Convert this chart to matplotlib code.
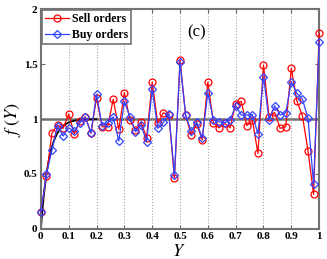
import numpy as np
import matplotlib.pyplot as plt

plt.rcParams['font.family'] = ['Liberation Serif', 'DejaVu Serif']
plt.rcParams['mathtext.fontset'] = 'stix'

# 数据：Y 取值与两组订单的 f(Y)
y_pos = np.round(np.arange(0, 1.0001, 0.02), 2)
sell = [0.15, 0.485, 0.875, 0.945, 0.915, 1.045, 0.865, 0.98, 1.02, 0.87,
        1.195, 0.93, 0.93, 1.18, 0.905, 1.24, 0.99, 0.90, 0.97, 0.83,
        1.335, 0.96, 1.057, 1.036, 0.46, 1.54, 1.036, 0.855, 0.955, 0.81,
        1.335, 0.966, 0.92, 0.96, 0.92, 1.14, 1.16, 0.94, 0.99, 0.688,
        1.49, 1.02, 1.06, 0.915, 0.93, 1.46, 1.164, 1.027, 0.71, 0.315,
        1.78]
buy = [0.15, 0.50, 0.72, 0.94, 0.845, 0.92, 0.89, 0.965, 1.015, 0.875,
       1.225, 0.94, 0.965, 1.02, 0.80, 1.16, 1.02, 0.885, 0.945, 0.795,
       1.27, 0.915, 0.97, 1.05, 0.49, 1.52, 1.036, 0.89, 0.97, 0.825,
       1.24, 0.99, 0.975, 0.965, 0.99, 1.12, 1.036, 1.036, 1.04, 0.864,
       1.385, 0.99, 1.12, 1.036, 1.057, 1.34, 1.233, 1.18, 1.006, 0.406,
       1.70]
lam = 0.029

fig = plt.figure(figsize=(3.27, 2.59), dpi=100)
ax = fig.add_axes([0.125, 0.116, 0.851, 0.849])

ax.axhline(1, color='0.45', lw=1.8, zorder=1)
yy = np.linspace(0, 0.2, 200)
ax.plot(yy, 1 - np.exp(-yy / lam), color='black', lw=1.3, zorder=2)

ax.plot(y_pos, sell, '-o', color='red', mfc='none', mec='red', ms=5,
        lw=0.9, mew=0.9, label='Sell orders', zorder=3, clip_on=False)
ax.plot(y_pos, buy, '-D', color='#3344ff', mfc='none', mec='#3344ff', ms=4,
        lw=0.9, mew=0.9, label='Buy orders', zorder=4, clip_on=False)

ax.set_xlim(0, 1)
ax.set_ylim(0, 2)
ax.set_xticks(np.arange(0, 1.01, 0.1))
ax.set_xticklabels(['0', '0.1', '0.2', '0.3', '0.4', '0.5', '0.6', '0.7',
                    '0.8', '0.9', '1'])
ax.set_yticks([0, 0.5, 1, 1.5, 2])
ax.set_yticklabels(['0', '0.5', '1', '1.5', '2'])
ax.xaxis.grid(True, ls=':', color='0.65', lw=0.8)
ax.tick_params(direction='in', length=3, width=0.8, colors='0.4',
               labelcolor='black', labelsize=8, top=True, right=True, pad=2.5)
for lab in ax.get_xticklabels() + ax.get_yticklabels():
    lab.set_fontweight('bold')
for s in ax.spines.values():
    s.set_color('0.45')
    s.set_linewidth(1.5)

ax.set_xlabel('$Y$', fontsize=13)
ax.set_ylabel('$f\\ (Y)$', fontsize=13)
ax.xaxis.set_label_coords(0.494, -0.063)
ax.yaxis.set_label_coords(-0.065, 0.5)
ax.text(0.56, 1.79, '(c)', fontsize=12, ha='center', va='center')

leg = ax.legend(loc='upper left', prop={'weight': 'bold', 'size': 8.5},
                borderpad=0.25, labelspacing=0.35, handlelength=2.0,
                handletextpad=0.3, borderaxespad=0.1, fancybox=False,
                framealpha=1)
leg.get_frame().set_edgecolor('0.45')
leg.get_frame().set_linewidth(1.2)

fig.savefig('out.png', dpi=100)
